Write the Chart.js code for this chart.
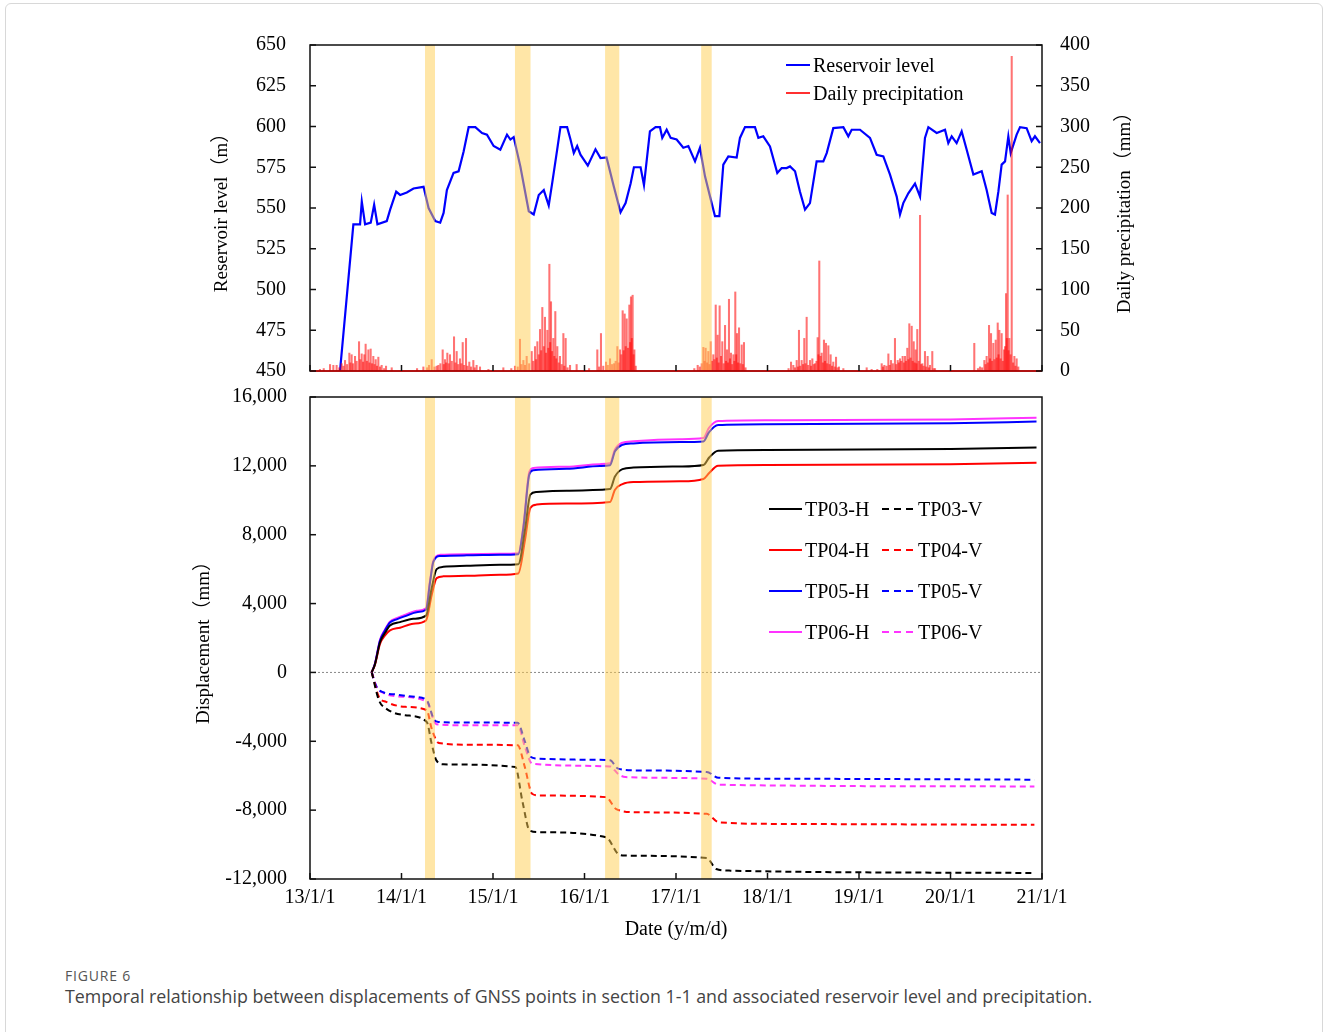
<!DOCTYPE html>
<html>
<head>
<meta charset="utf-8">
<script src="https://cdn.jsdelivr.net/npm/chart.js@4.4.1/dist/chart.umd.min.js"></script>
<style>
  body { margin: 0; background: #fff; width: 1328px; height: 1032px; overflow: hidden; position: relative; font-family: "Liberation Serif", serif; }
  #frame { position: absolute; left: 5px; top: 3px; width: 1316px; height: 1060px; border: 1px solid #d8d8d8; border-radius: 6px; }
  canvas { position: absolute; left: 0; }
  #topChart { top: 0; }
  #bottomChart { top: 362px; }
  .lg { position: absolute; display: flex; align-items: center; font-size: 20px; line-height: 24px; color: #000; white-space: nowrap; }
  .lg .s { display: inline-block; margin-right: 3px; }
  .dash { height: 2px; }
  #figno { position: absolute; left: 65px; top: 968px; font: 14px "Open Sans", sans-serif; letter-spacing: 0.8px; line-height: 16px; color: #555; }
  #caption { position: absolute; left: 65px; top: 986px; font: 17.8px "Open Sans", sans-serif; line-height: 20px; color: #444; white-space: nowrap; }
</style>
</head>
<body>
<div id="frame"></div>
<canvas id="topChart" width="1328" height="407"></canvas>
<canvas id="bottomChart" width="1328" height="588"></canvas>

<div class="lg" style="left:786px;top:53px"><span class="s" style="width:24px;height:2px;background:#0000ff"></span>Reservoir level</div>
<div class="lg" style="left:786px;top:81px"><span class="s" style="width:24px;height:1.5px;background:#ff3030"></span>Daily precipitation</div>

<div class="lg" style="left:769px;top:497px"><span class="s" style="width:33px;height:2px;background:#000"></span>TP03-H</div>
<div class="lg" style="left:882px;top:497px"><span class="s dash" style="width:33px;background:repeating-linear-gradient(to right,#000 0 7px,transparent 7px 12px)"></span>TP03-V</div>
<div class="lg" style="left:769px;top:538px"><span class="s" style="width:33px;height:2px;background:#ff0000"></span>TP04-H</div>
<div class="lg" style="left:882px;top:538px"><span class="s dash" style="width:33px;background:repeating-linear-gradient(to right,#ff0000 0 7px,transparent 7px 12px)"></span>TP04-V</div>
<div class="lg" style="left:769px;top:579px"><span class="s" style="width:33px;height:2px;background:#0000ff"></span>TP05-H</div>
<div class="lg" style="left:882px;top:579px"><span class="s dash" style="width:33px;background:repeating-linear-gradient(to right,#0000ff 0 7px,transparent 7px 12px)"></span>TP05-V</div>
<div class="lg" style="left:769px;top:620px"><span class="s" style="width:33px;height:2px;background:#ff33ff"></span>TP06-H</div>
<div class="lg" style="left:882px;top:620px"><span class="s dash" style="width:33px;background:repeating-linear-gradient(to right,#ff33ff 0 7px,transparent 7px 12px)"></span>TP06-V</div>

<div id="figno">FIGURE 6</div>
<div id="caption">Temporal relationship between displacements of GNSS points in section 1-1 and associated reservoir level and precipitation.</div>

<script>
// reservoir level (m), dates as decimal years
const resDates = [2013.328, 2013.474, 2013.547, 2013.566, 2013.602, 2013.664, 2013.701, 2013.737, 2013.839, 2013.876,
  2013.942, 2013.985, 2014.058, 2014.131, 2014.241, 2014.296, 2014.369, 2014.423, 2014.460, 2014.496,
  2014.569, 2014.624, 2014.679, 2014.734, 2014.807, 2014.880, 2014.934, 2015.007, 2015.080, 2015.153,
  2015.190, 2015.226, 2015.299, 2015.391, 2015.445, 2015.500, 2015.555, 2015.609, 2015.646, 2015.701,
  2015.737, 2015.810, 2015.847, 2015.883, 2015.920, 2015.956, 2016.036, 2016.120, 2016.175, 2016.241,
  2016.321, 2016.394, 2016.449, 2016.504, 2016.540, 2016.613, 2016.650, 2016.715, 2016.777, 2016.825,
  2016.850, 2016.898, 2016.942, 2017.007, 2017.080, 2017.135, 2017.208, 2017.262, 2017.317, 2017.390,
  2017.426, 2017.474, 2017.517, 2017.572, 2017.663, 2017.699, 2017.754, 2017.863, 2017.900, 2017.954,
  2018.027, 2018.107, 2018.155, 2018.209, 2018.246, 2018.301, 2018.355, 2018.410, 2018.464, 2018.537,
  2018.610, 2018.647, 2018.719, 2018.829, 2018.883, 2018.920, 2019.011, 2019.120, 2019.193, 2019.266,
  2019.339, 2019.412, 2019.448, 2019.484, 2019.539, 2019.612, 2019.667, 2019.721, 2019.758, 2019.849,
  2019.940, 2019.976, 2020.013, 2020.067, 2020.122, 2020.177, 2020.250, 2020.341, 2020.395, 2020.450,
  2020.486, 2020.523, 2020.559, 2020.596, 2020.632, 2020.658, 2020.723, 2020.760, 2020.832, 2020.887,
  2020.923, 2020.978];
const resLevels = [450, 540, 540, 554, 540, 541, 552, 540, 542, 549,
  560, 558, 559.5, 562, 563, 550, 542, 541, 547, 561,
  571.5, 572.5, 584.7, 599.6, 599.6, 596, 595, 588, 585.7, 595,
  592, 593.5, 575.5, 548, 546, 558, 561, 551.5, 565, 585.7,
  599.6, 599.6, 592, 583.7, 588, 582.7, 576, 586, 580.6, 581,
  563, 547.4, 553, 565, 575, 575, 564, 597, 599.6, 599.6,
  593, 598, 593, 592, 587, 588, 578.6, 587, 569.4, 553,
  545, 545, 576.6, 581.7, 581, 593, 599.6, 599.6, 593, 594,
  587.8, 571.5, 574.5, 574.5, 575.5, 572.5, 560, 549, 553, 578.6,
  578.6, 583.7, 599, 599.6, 594, 598, 598, 593, 582.7, 581.7,
  570.5, 557, 546, 553, 559, 565, 557, 593, 599.6, 596,
  598, 589.8, 594, 589.8, 597, 585.7, 570.5, 572.5, 561, 547,
  546, 560, 576.6, 578.6, 594, 583.7, 595, 599.6, 599, 591,
  594, 589.8];

// daily precipitation (mm)
const precipDates = [
  2013.109, 2013.150, 2013.219, 2013.255, 2013.291, 2013.320, 2013.346, 2013.365, 2013.383, 2013.405,
  2013.430, 2013.442, 2013.455, 2013.470, 2013.492, 2013.510, 2013.536, 2013.550, 2013.565, 2013.580,
  2013.594, 2013.608, 2013.622, 2013.638, 2013.650, 2013.663, 2013.678, 2013.692, 2013.705, 2013.718,
  2013.732, 2013.747, 2013.765, 2013.783, 2013.810, 2013.831, 2013.893,
  2014.170, 2014.239, 2014.280, 2014.301, 2014.330, 2014.360, 2014.385, 2014.403, 2014.425, 2014.450,
  2014.462, 2014.475, 2014.488, 2014.501, 2014.515, 2014.530, 2014.550, 2014.574, 2014.590, 2014.603,
  2014.620, 2014.639, 2014.655, 2014.669, 2014.685, 2014.705, 2014.720, 2014.741, 2014.760, 2014.785,
  2014.800, 2014.821, 2014.858, 2014.950, 2015.113,
  2015.200, 2015.240, 2015.270, 2015.295, 2015.310, 2015.332, 2015.350, 2015.368, 2015.395, 2015.423,
  2015.440, 2015.459, 2015.472, 2015.485, 2015.500, 2015.514, 2015.527, 2015.539, 2015.555, 2015.568,
  2015.580, 2015.594, 2015.605, 2015.616, 2015.625, 2015.634, 2015.646, 2015.659, 2015.670, 2015.681,
  2015.692, 2015.703, 2015.718, 2015.732, 2015.750, 2015.769, 2015.780, 2015.794, 2015.815, 2015.842,
  2015.914, 2016.050, 2016.140, 2016.160, 2016.180, 2016.205, 2016.235, 2016.255, 2016.279, 2016.300,
  2016.322, 2016.340, 2016.359, 2016.372, 2016.388, 2016.403, 2016.417, 2016.428, 2016.439, 2016.450,
  2016.461, 2016.475, 2016.490, 2016.499, 2016.508, 2016.517, 2016.526, 2016.536, 2016.545, 2016.560,
  2017.200, 2017.237, 2017.260, 2017.281, 2017.299, 2017.312, 2017.324, 2017.340, 2017.353, 2017.366,
  2017.379, 2017.394, 2017.408, 2017.420, 2017.434, 2017.445, 2017.455, 2017.466, 2017.477, 2017.492,
  2017.506, 2017.521, 2017.536, 2017.547, 2017.557, 2017.568, 2017.579, 2017.590, 2017.601, 2017.614,
  2017.627, 2017.638, 2017.648, 2017.658, 2017.667, 2017.678, 2017.689, 2017.703, 2017.718, 2017.730,
  2017.743, 2017.760,
  2018.230, 2018.257, 2018.282, 2018.300, 2018.319, 2018.332, 2018.344, 2018.358, 2018.373, 2018.388,
  2018.402, 2018.415, 2018.428, 2018.445, 2018.464, 2018.477, 2018.490, 2018.505, 2018.519, 2018.535,
  2018.548, 2018.557, 2018.566, 2018.580, 2018.592, 2018.605, 2018.617, 2018.628, 2018.639, 2018.652,
  2018.665, 2018.678, 2018.690, 2018.705, 2018.719, 2018.735, 2018.749, 2018.765, 2018.781, 2018.829,
  2019.084, 2019.138, 2019.200, 2019.248, 2019.262, 2019.277, 2019.300, 2019.321, 2019.335, 2019.350,
  2019.370, 2019.393, 2019.408, 2019.423, 2019.435, 2019.448, 2019.462, 2019.477, 2019.490, 2019.503,
  2019.515, 2019.528, 2019.540, 2019.550, 2019.563, 2019.576, 2019.587, 2019.598, 2019.608, 2019.619,
  2019.628, 2019.637, 2019.652, 2019.667, 2019.680, 2019.692, 2019.705, 2019.721, 2019.735, 2019.750,
  2019.763, 2019.776, 2019.801, 2019.815, 2019.831,
  2020.260, 2020.300, 2020.322, 2020.345, 2020.370, 2020.383, 2020.395, 2020.408, 2020.421, 2020.432,
  2020.443, 2020.455, 2020.468, 2020.481, 2020.494, 2020.505, 2020.516, 2020.525, 2020.534, 2020.547,
  2020.559, 2020.572, 2020.585, 2020.596, 2020.607, 2020.616, 2020.625, 2020.634, 2020.643, 2020.656,
  2020.669, 2020.684, 2020.698, 2020.710, 2020.723, 2020.741];
const precipValues = [
  2, 3, 8, 7, 7, 4, 9, 6, 13, 8,
  22, 10, 20, 9, 18, 12, 36, 14, 21, 11,
  20, 33, 12, 26, 10, 27, 9, 18, 8, 14,
  6, 17, 5, 7, 3, 6, 4,
  3, 5, 4, 7, 14, 5, 6, 7, 9, 26,
  8, 14, 10, 22, 9, 20, 12, 42, 10, 24,
  8, 15, 9, 35, 7, 40, 6, 11, 5, 13,
  4, 7, 5, 2, 4,
  3, 6, 5, 39, 8, 13, 7, 18, 9, 24,
  12, 30, 14, 36, 20, 51, 25, 78, 30, 66,
  22, 50, 28, 131, 35, 85, 24, 40, 18, 73,
  15, 30, 10, 18, 8, 46, 6, 40, 4, 7,
  8, 3, 26, 5, 46, 6, 11, 7, 15, 8,
  9, 12, 30, 10, 26, 20, 74, 25, 70, 30,
  64, 28, 81, 35, 91, 40, 93, 20, 26, 6,
  3, 7, 5, 9, 29, 12, 28, 10, 24, 8,
  36, 12, 20, 14, 81, 16, 44, 10, 80, 18,
  36, 9, 56, 12, 26, 10, 88, 15, 22, 8,
  20, 12, 97, 20, 46, 10, 53, 9, 32, 8,
  35, 4,
  3, 11, 7, 4, 13, 5, 50, 6, 13, 8,
  40, 9, 66, 7, 13, 6, 15, 8, 9, 12,
  41, 20, 135, 18, 22, 10, 38, 12, 34, 9,
  31, 8, 20, 6, 11, 5, 17, 4, 5, 3,
  4, 2, 2, 9, 5, 7, 6, 21, 7, 13,
  9, 40, 8, 13, 10, 15, 12, 18, 10, 18,
  12, 28, 14, 58, 16, 55, 12, 36, 10, 26,
  9, 51, 12, 191, 8, 9, 6, 24, 5, 18,
  4, 7, 24, 3, 3,
  34, 3, 5, 4, 13, 8, 18, 10, 56, 15,
  46, 12, 34, 14, 38, 16, 59, 20, 50, 15,
  46, 12, 26, 30, 95, 40, 216, 25, 40, 20,
  386, 10, 18, 6, 15, 5];

// horizontal displacement (mm)
const hDatesA = [2013.674, 2013.710, 2013.765, 2013.820, 2013.874, 2013.984, 2014.129, 2014.268, 2014.330, 2014.384,
  2014.457, 2014.712, 2015.077, 2015.277, 2015.350, 2015.408, 2015.477, 2015.805, 2016.279, 2016.333,
  2016.415, 2016.534, 2017.044, 2017.300, 2017.365, 2017.460, 2018.000, 2020.000, 2020.940];
const tp03H = [0, 480, 1750, 2300, 2730, 2920, 3115, 3300, 4900, 6000,
  6135, 6190, 6250, 6290, 8300, 10330, 10480, 10560, 10650, 11380,
  11810, 11900, 11960, 12050, 12500, 12880, 12920, 12980, 13060];
const tp04H = [0, 450, 1650, 2150, 2440, 2600, 2830, 3020, 4500, 5480,
  5580, 5615, 5670, 5750, 7700, 9560, 9750, 9810, 9900, 10615,
  10940, 11060, 11100, 11240, 11600, 12010, 12050, 12100, 12180];
const hDatesB = [2013.674, 2013.710, 2013.765, 2013.820, 2013.874, 2013.947, 2014.057, 2014.166, 2014.268, 2014.311,
  2014.348, 2014.421, 2014.712, 2015.077, 2015.277, 2015.332, 2015.397, 2015.441, 2015.805, 2016.169,
  2016.279, 2016.333, 2016.406, 2016.534, 2017.044, 2017.300, 2017.360, 2017.460, 2018.000, 2020.000, 2020.940];
const tp05H = [0, 500, 1850, 2450, 2900, 3080, 3300, 3500, 3640, 5200,
  6420, 6760, 6800, 6830, 6870, 8400, 11500, 11750, 11830, 11990,
  12030, 12850, 13200, 13300, 13380, 13420, 13950, 14370, 14420, 14480, 14570];
const tp06H = [0, 520, 1900, 2500, 2950, 3150, 3380, 3580, 3720, 5300,
  6500, 6830, 6870, 6890, 6930, 8500, 11650, 11880, 11950, 12100,
  12150, 12950, 13330, 13430, 13550, 13620, 14200, 14600, 14650, 14700, 14800];

// vertical displacement (mm)
const v03Dates = [2013.675, 2013.753, 2013.832, 2014.041, 2014.276, 2014.329, 2014.381, 2014.459, 2015.244, 2015.322,
  2015.401, 2015.505, 2016.237, 2016.368, 2016.447, 2017.336, 2017.440, 2017.597, 2020.917];
const tp03V = [0, -1610, -2100, -2485, -2875, -4130, -5110, -5340, -5495, -7500,
  -9185, -9280, -9575, -10545, -10640, -10780, -11420, -11515, -11650];
const v04Dates = [2013.675, 2013.753, 2013.832, 2014.041, 2014.276, 2014.329, 2014.407, 2014.721, 2015.270, 2015.348,
  2015.427, 2015.505, 2016.237, 2016.342, 2016.551, 2017.336, 2017.466, 2018.120, 2020.917];
const tp04V = [0, -1420, -1710, -2000, -2195, -3250, -4100, -4195, -4235, -5500,
  -7050, -7150, -7245, -7920, -8120, -8215, -8700, -8800, -8855];
const v05Dates = [2013.675, 2013.727, 2013.806, 2013.937, 2014.146, 2014.276, 2014.355, 2014.407, 2014.721, 2015.270,
  2015.348, 2015.411, 2015.505, 2016.028, 2016.279, 2016.368, 2016.551, 2017.336, 2017.466, 2018.120, 2020.917];
const tp05V = [0, -835, -1165, -1280, -1420, -1610, -2740, -2875, -2910, -2930,
  -4000, -4910, -5010, -5070, -5105, -5590, -5690, -5790, -6120, -6175, -6230];
const v06Dates = [2013.675, 2013.727, 2013.806, 2013.937, 2014.276, 2014.381, 2014.721, 2015.270, 2015.348, 2015.427,
  2016.279, 2016.368, 2016.447, 2017.336, 2017.466, 2020.917];
const tp06V = [0, -835, -1200, -1380, -1710, -3010, -3070, -3070, -4300, -5300,
  -5460, -5900, -6080, -6175, -6525, -6620];

// highlighted periods
const bandStart = [2014.257, 2015.240, 2016.225, 2017.275];
const bandEnd = [2014.366, 2015.410, 2016.380, 2017.390];

const pts = (xs, ys) => xs.map((x, i) => ({ x: x, y: ys[i] }));

Chart.defaults.font.family = '"Liberation Serif", "Noto Sans CJK SC", serif';
Chart.defaults.font.size = 20;
Chart.defaults.color = '#000';

// yellow bands over the plot
const bandsPlugin = {
    id: 'bands',
    afterDatasetsDraw(chart) {
        const { ctx, chartArea: a, scales: { x } } = chart;
        ctx.save();
        ctx.fillStyle = 'rgba(255, 205, 80, 0.5)';
        bandStart.forEach((s, i) => {
            const x0 = x.getPixelForValue(s);
            const x1 = x.getPixelForValue(bandEnd[i]);
            ctx.fillRect(x0, a.top, x1 - x0, a.bottom - a.top);
        });
        ctx.restore();
    }
};

// box around the plot area + inward tick marks
const framePlugin = {
    id: 'frame',
    afterDraw(chart, args, opts) {
        const { ctx, chartArea: a } = chart;
        ctx.save();
        ctx.strokeStyle = '#111';
        ctx.lineWidth = 1.5;
        ctx.strokeRect(a.left, a.top, a.right - a.left, a.bottom - a.top);
        if (opts.bottomColor) {
            ctx.strokeStyle = opts.bottomColor;
            ctx.beginPath();
            ctx.moveTo(a.left, a.bottom); ctx.lineTo(a.right, a.bottom);
            ctx.stroke();
            ctx.strokeStyle = '#111';
        }
        (opts.axes || []).forEach(id => {
            const s = chart.scales[id];
            s.ticks.forEach(t => {
                const p = s.getPixelForValue(t.value);
                ctx.beginPath();
                if (s.isHorizontal()) {
                    ctx.moveTo(p, a.bottom); ctx.lineTo(p, a.bottom - 6);
                } else if (s.position === 'left') {
                    ctx.moveTo(a.left, p); ctx.lineTo(a.left + 6, p);
                } else {
                    ctx.moveTo(a.right, p); ctx.lineTo(a.right - 6, p);
                }
                ctx.stroke();
            });
        });
        ctx.restore();
    }
};

// right-hand axis title, reading bottom to top like the left one
const rightTitle = {
    id: 'rightTitle',
    afterDraw(chart, args, opts) {
        if (!opts.text) return;
        const { ctx, chartArea: a } = chart;
        ctx.save();
        ctx.translate(opts.x, (a.top + a.bottom) / 2);
        ctx.rotate(-Math.PI / 2);
        ctx.font = '19px "Liberation Serif", "Noto Sans CJK SC", serif';
        ctx.fillStyle = '#000';
        ctx.textAlign = 'center';
        ctx.textBaseline = 'middle';
        ctx.fillText(opts.text, 0, 0);
        ctx.restore();
    }
};

const zeroLine = {
    id: 'zeroLine',
    beforeDatasetsDraw(chart) {
        const { ctx, chartArea: a, scales: { y } } = chart;
        const py = y.getPixelForValue(0);
        ctx.save();
        ctx.strokeStyle = '#888';
        ctx.lineWidth = 1;
        ctx.setLineDash([2, 2]);
        ctx.beginPath();
        ctx.moveTo(a.left, py); ctx.lineTo(a.right, py);
        ctx.stroke();
        ctx.restore();
    }
};

const noGrid = { display: false, drawTicks: false };

// upper panel: reservoir level and rainfall
new Chart(document.getElementById('topChart'), {
    type: 'bar',
    data: {
        datasets: [
            {
                type: 'line',
                label: 'Reservoir level',
                data: pts(resDates, resLevels),
                borderColor: '#0000ff',
                borderWidth: 2.2,
                pointRadius: 0,
                tension: 0,
                yAxisID: 'yL',
                order: 1
            },
            {
                type: 'bar',
                label: 'Daily precipitation',
                data: pts(precipDates, precipValues),
                backgroundColor: 'rgba(255, 0, 0, 0.55)',
                barThickness: 1.4,
                yAxisID: 'yR',
                order: 0
            }
        ]
    },
    options: {
        responsive: false,
        animation: false,
        events: [],
        layout: { padding: { left: 211, right: 0, top: 45, bottom: 9 } },
        plugins: {
            legend: { display: false },
            tooltip: { enabled: false },
            frame: { axes: ['x', 'yL', 'yR'], bottomColor: '#d00000' },
            rightTitle: { text: 'Daily precipitation（mm）', x: 1125 }
        },
        scales: {
            x: {
                type: 'linear', min: 2013, max: 2021, offset: false,
                ticks: { display: false, stepSize: 1 },
                grid: { display: false, drawTicks: false, offset: false },
                border: { display: false },
                afterFit(s) { s.height = 0; }
            },
            yL: {
                position: 'left', min: 450, max: 650,
                ticks: { stepSize: 25, padding: 24 },
                grid: noGrid,
                border: { display: false },
                title: { display: true, text: 'Reservoir level（m）', font: { size: 19 }, padding: 0 },
                afterFit(s) { s.width = 99; }
            },
            yR: {
                position: 'right', min: 0, max: 400,
                ticks: { stepSize: 50, padding: 18 },
                grid: noGrid,
                border: { display: false },
                afterFit(s) { s.width = 286; }
            }
        }
    },
    plugins: [bandsPlugin, framePlugin, rightTitle]
});

// lower panel: displacements
const lineSet = (label, xs, ys, color, dashed) => ({
    label: label,
    data: pts(xs, ys),
    borderColor: color,
    borderWidth: 2,
    borderDash: dashed ? [6, 4] : [],
    pointRadius: 0,
    cubicInterpolationMode: 'monotone'
});

new Chart(document.getElementById('bottomChart'), {
    type: 'line',
    data: {
        datasets: [
            lineSet('TP03-H', hDatesA, tp03H, '#000000', false),
            lineSet('TP04-H', hDatesA, tp04H, '#ff0000', false),
            lineSet('TP05-H', hDatesB, tp05H, '#0000ff', false),
            lineSet('TP06-H', hDatesB, tp06H, '#ff33ff', false),
            lineSet('TP03-V', v03Dates, tp03V, '#000000', true),
            lineSet('TP04-V', v04Dates, tp04V, '#ff0000', true),
            lineSet('TP05-V', v05Dates, tp05V, '#0000ff', true),
            lineSet('TP06-V', v06Dates, tp06V, '#ff33ff', true)
        ]
    },
    options: {
        responsive: false,
        animation: false,
        events: [],
        layout: { padding: { left: 193, right: 286, top: 0, bottom: 8 } },
        plugins: {
            legend: { display: false },
            tooltip: { enabled: false },
            frame: { axes: ['x', 'y'] }
        },
        scales: {
            x: {
                type: 'linear', min: 2013, max: 2021,
                ticks: { stepSize: 1, padding: 7, autoSkip: false, maxRotation: 0,
                    callback: v => (Math.round(v) - 2000) + '/1/1' },
                grid: noGrid,
                border: { display: false },
                title: { display: true, text: 'Date (y/m/d)', font: { size: 20 }, padding: 0 },
                afterFit(s) { s.height = 63; }
            },
            y: {
                min: -12000, max: 16000,
                ticks: { stepSize: 4000, padding: 23, callback: v => v.toLocaleString('en-US') },
                grid: noGrid,
                border: { display: false },
                title: { display: true, text: 'Displacement（mm）', font: { size: 19 }, padding: 0 },
                afterFit(s) { s.width = 117; }
            }
        }
    },
    plugins: [zeroLine, bandsPlugin, framePlugin]
});
</script>
</body>
</html>
